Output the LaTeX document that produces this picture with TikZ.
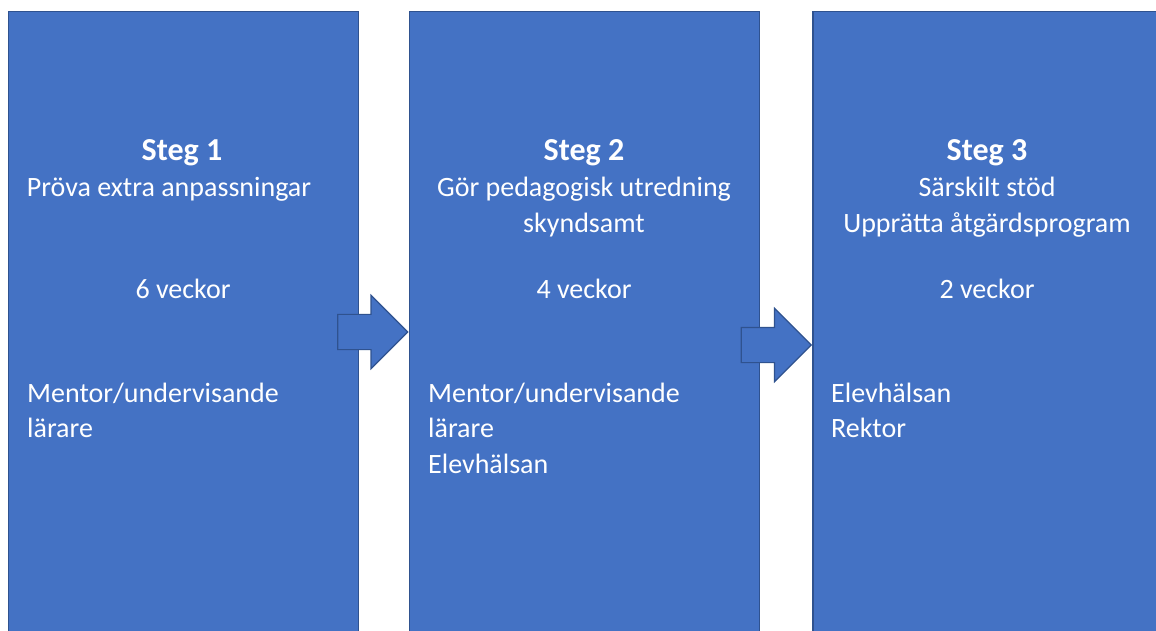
\documentclass[tikz,border=0pt]{standalone}
\usepackage{fontspec}
\setmainfont{Carlito}
\usetikzlibrary{shapes.arrows}
\definecolor{stepblue}{HTML}{4472C4}
\definecolor{stepedge}{HTML}{2F528F}

\begin{document}
\begin{tikzpicture}[x=1pt,y=1pt]
\tikzset{
  stepbox/.style={rectangle,draw=stepedge,fill=stepblue,line width=1.5pt,minimum width=350pt,minimum height=640pt,inner sep=0pt,anchor=north west},
  blockarrow/.style={single arrow,draw=stepedge,fill=stepblue,line width=1.2pt,minimum height=70pt,inner xsep=0pt,inner ysep=17pt,single arrow head extend=19pt,anchor=tip},
  title/.style={text=white,font=\fontsize{32}{36}\selectfont\bfseries,anchor=base,inner sep=0pt},
  centerline/.style={text=white,font=\fontsize{28}{36}\selectfont,anchor=base,inner sep=0pt},
  leftline/.style={text=white,font=\fontsize{28}{36}\selectfont,anchor=base west,inner sep=0pt}
}
\useasboundingbox (0,0) rectangle (1156,630);
\fill[white] (0,0) rectangle (1156,630);
\node[stepbox] (box1) at (7.5,619) {};
\node[stepbox] (box2) at (408.5,619) {};
\node[stepbox] (box3) at (812,619) {};
\node[blockarrow] (arrow1) at (408.5,298) {};
\node[blockarrow] (arrow2) at (812,285) {};
% steg 1
\node[title] (t1) at (182,469) {Steg 1};
\node[centerline] (a1) at (169,433) {Pröva extra anpassningar};
\node[centerline] (w1) at (183,331) {6 veckor};
\node[leftline] (r1a) at (27,228) {Mentor/undervisande};
\node[leftline] (r1b) at (27,193) {lärare};
% steg 2
\node[title] (t2) at (584,469) {Steg 2};
\node[centerline] (a2) at (584,433) {Gör pedagogisk utredning};
\node[centerline] (b2) at (584,397) {skyndsamt};
\node[centerline] (w2) at (584,331) {4 veckor};
\node[leftline] (r2a) at (428,228) {Mentor/undervisande};
\node[leftline] (r2b) at (428,193) {lärare};
\node[leftline] (r2c) at (428,157) {Elevhälsan};
% steg 3
\node[title] (t3) at (987,469) {Steg 3};
\node[centerline] (a3) at (987,433) {Särskilt stöd};
\node[centerline] (b3) at (987,397) {Upprätta åtgärdsprogram};
\node[centerline] (w3) at (987,331) {2 veckor};
\node[leftline] (r3a) at (831,228) {Elevhälsan};
\node[leftline] (r3b) at (831,193) {Rektor};
\end{tikzpicture}
\end{document}
